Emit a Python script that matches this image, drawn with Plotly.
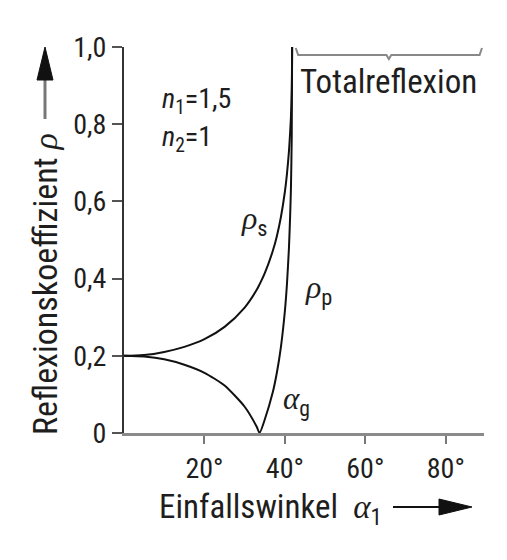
import plotly.graph_objects as go

# Data
angle_deg = [0, 5, 10, 15, 20, 25, 30, 33, 33.7, 35, 37, 38, 39, 40, 40.5, 41, 41.3, 41.5, 41.7, 41.8]
rho_s = [0.200, 0.202, 0.210, 0.223, 0.243, 0.275, 0.325, 0.371, 0.385, 0.414, 0.472, 0.510, 0.559, 0.625, 0.670, 0.729, 0.778, 0.818, 0.889, 1.0]
rho_p = [0.200, 0.198, 0.191, 0.177, 0.156, 0.123, 0.068, 0.016, 0.0, 0.035, 0.106, 0.156, 0.222, 0.316, 0.384, 0.478, 0.561, 0.633, 0.767, 1.0]

x_tick_vals = [20, 40, 60, 80]
x_tick_text = ["20°", "40°", "60°", "80°"]
y_tick_vals = [0, 0.2, 0.4, 0.6, 0.8, 1.0]
y_tick_text = ["0", "0,2", "0,4", "0,6", "0,8", "1,0"]
total_refl_range = [42.7, 89.0]

FONT = "Roboto Condensed, DejaVu Sans Condensed, sans-serif"
GREEK = '<span style="font-family:Liberation Serif, DejaVu Serif, serif"><i>{}</i></span>'
TXT = "#1e1e1e"

fig = go.Figure()
fig.add_trace(go.Scatter(x=angle_deg, y=rho_s, mode="lines", line=dict(color="#111", width=2, shape="spline"), showlegend=False))
fig.add_trace(go.Scatter(x=angle_deg, y=rho_p, mode="lines", line=dict(color="#111", width=2, shape="spline", smoothing=0.6), showlegend=False))

# page has an 8px body margin; figure is sized so that the plot area lands at page x 124..484, y 47..433
fig.update_layout(
    width=499, height=552,
    margin=dict(l=116, r=23, t=39, b=127),
    paper_bgcolor="white", plot_bgcolor="white",
    font=dict(family=FONT, size=28, color=TXT),
    xaxis=dict(range=[0, 89.5], showgrid=False, zeroline=False, showline=True, linecolor="#8a8a8a", linewidth=3,
               tickvals=x_tick_vals, ticktext=x_tick_text, ticks="outside", ticklen=8, tickwidth=2, tickcolor="#777",
               tickfont=dict(size=28, family=FONT, color=TXT)),
    yaxis=dict(range=[0, 1.0], showgrid=False, zeroline=False, showline=True, linecolor="#333", linewidth=2,
               tickvals=y_tick_vals, ticktext=y_tick_text, ticks="outside", ticklen=10, tickwidth=2, tickcolor="#555",
               tickfont=dict(size=28, family=FONT, color=TXT)),
)

def px_x(p):
    return (p - 124) / 360.0

def px_y(p):
    return (433 - p) / 386.0

def label(x, y, text, size, xanchor="center", **kw):
    return dict(xref="paper", yref="paper", x=px_x(x), y=px_y(y), text=text, xanchor=xanchor, yanchor="middle",
                showarrow=False, font=dict(size=size, family=FONT, color=TXT), **kw)

ann = [
    label(45, 284, "Reflexionskoeffizient " + GREEK.format("ρ"), 34, textangle=-90),
    label(157, 509, "Einfallswinkel  " + GREEK.format("α") + "<sub>1</sub>", 33, xanchor="left"),
    label(160, 100, "<i>n</i><sub>1</sub>=1,5", 28, xanchor="left"),
    label(160, 138, "<i>n</i><sub>2</sub>=1", 28, xanchor="left"),
    label(254, 220, GREEK.format("ρ") + "<sub>s</sub>", 32),
    label(318, 289, GREEK.format("ρ") + "<sub>p</sub>", 32),
    label(296, 401, GREEK.format("α") + "<sub>g</sub>", 31),
]
ann.append(dict(xref="x", yref="paper", x=sum(total_refl_range) / 2, y=px_y(81), text="Totalreflexion",
                xanchor="center", yanchor="middle", showarrow=False, font=dict(size=33, family=FONT, color=TXT)))
fig.update_layout(annotations=ann)

# bracket above the total-reflection range
x0, x1 = total_refl_range
xm = (x0 + x1) / 2
path = (f"M {x0},{px_y(48)} L {x0 + 0.6},{px_y(55)} L {xm - 0.6},{px_y(55)} L {xm},{px_y(59)} "
        f"L {xm + 0.6},{px_y(55)} L {x1 - 0.6},{px_y(55)} L {x1},{px_y(48)}")
fig.add_shape(type="path", path=path, xref="x", yref="paper", line=dict(color="#888", width=2))

# axis arrows (paper coordinates)
fig.add_shape(type="line", xref="paper", yref="paper", x0=px_x(45), x1=px_x(45), y0=px_y(119), y1=px_y(78),
              line=dict(color="#777", width=3))
fig.add_shape(type="path", xref="paper", yref="paper", fillcolor="#111", line=dict(color="#111", width=1),
              path=f"M {px_x(37)},{px_y(80)} L {px_x(45)},{px_y(47)} L {px_x(53)},{px_y(80)} Z")
fig.add_shape(type="line", xref="paper", yref="paper", x0=px_x(393), x1=px_x(442), y0=px_y(507), y1=px_y(507),
              line=dict(color="#111", width=2))
fig.add_shape(type="path", xref="paper", yref="paper", fillcolor="#111", line=dict(color="#111", width=1),
              path=f"M {px_x(439)},{px_y(499)} L {px_x(472)},{px_y(507)} L {px_x(439)},{px_y(515)} Z")

fig.write_html("out.html")
